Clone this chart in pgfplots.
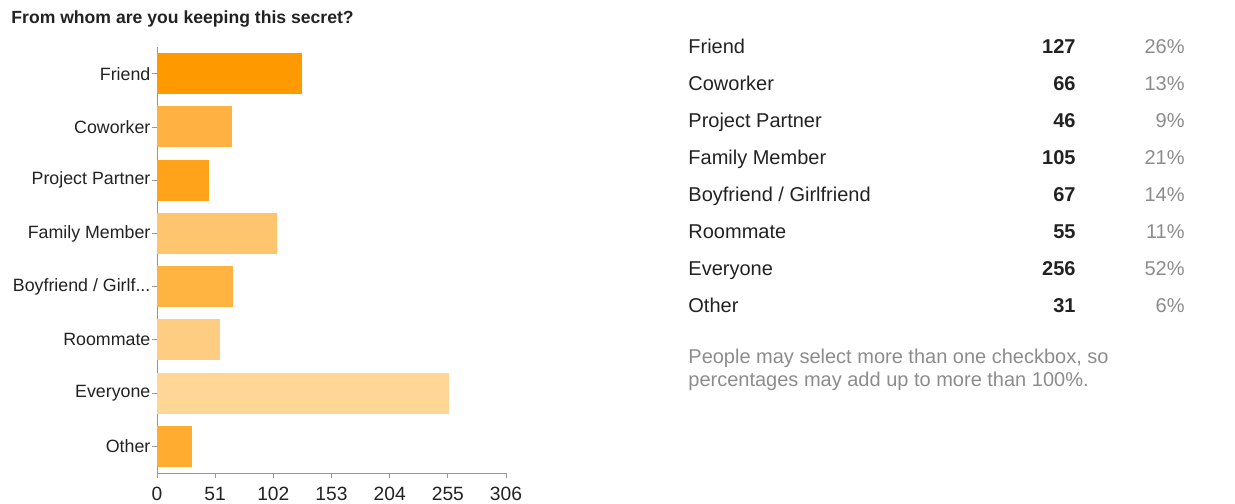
\documentclass[border=0pt]{standalone}
\usepackage{fontspec}
\setmainfont{Liberation Sans}
\usepackage{pgfplots}
\pgfplotsset{compat=1.18}
\definecolor{cFriend}{RGB}{255,153,0}
\definecolor{cCowork}{RGB}{255,178,66}
\definecolor{cProject}{RGB}{255,163,26}
\definecolor{cFamily}{RGB}{255,196,110}
\definecolor{cBoy}{RGB}{255,180,66}
\definecolor{cRoom}{RGB}{255,205,130}
\definecolor{cEvery}{RGB}{255,214,150}
\definecolor{cOther}{RGB}{255,172,48}
\definecolor{axisgray}{RGB}{150,150,150}
\definecolor{txt}{RGB}{34,34,34}
\definecolor{pctgray}{RGB}{140,140,140}
\begin{document}
\begin{tikzpicture}
\begin{scope}[x=0.5pt,y=-0.5pt]
\path[use as bounding box] (0,0) rectangle (1235,503);
\node[anchor=base west,inner sep=0pt,font=\fontsize{8.8}{10}\selectfont\bfseries,text=txt] at (11,24) {From whom are you keeping this secret?};
% table
\foreach \name/\n/\p [count=\i from 0] in {Friend/127/26\%,Coworker/66/13\%,Project Partner/46/9\%,Family Member/105/21\%,{Boyfriend {/} Girlfriend}/67/14\%,Roommate/55/11\%,Everyone/256/52\%,Other/31/6\%}{
  \node[anchor=base west,inner sep=0pt,font=\fontsize{10}{12}\selectfont,text=txt] at (688,{53+37*\i}) {\name};
  \node[anchor=base east,inner sep=0pt,font=\fontsize{10}{12}\selectfont\bfseries,text=txt] at (1076,{53+37*\i}) {\n};
  \node[anchor=base east,inner sep=0pt,font=\fontsize{10}{12}\selectfont,text=pctgray] at (1185,{53+37*\i}) {\p};
}
\node[anchor=base west,inner sep=0pt,font=\fontsize{10}{12}\selectfont,text=pctgray] at (688,363) {People may select more than one checkbox, so};
\node[anchor=base west,inner sep=0pt,font=\fontsize{10}{12}\selectfont,text=pctgray] at (688,386) {percentages may add up to more than 100\%.};
\end{scope}
\begin{axis}[
  at={(78.5pt,-236.5pt)}, anchor=south west,
  scale only axis, width=174.5pt, height=213pt,
  xmin=0, xmax=306, ymin=-0.5, ymax=7.5, y dir=reverse,
  xtick={0,51,102,153,204,255,306},
  ytick={0,1,2,3,4,5,6,7},
  yticklabels={Friend,Coworker,Project Partner,Family Member,{Boyfriend / Girlf{.}{.}{.}},Roommate,Everyone,Other},
  axis x line*=bottom, axis y line*=left,
  axis line style={axisgray,-},
  tick style={axisgray, thin},
  tick align=outside, major tick length=2.5pt,
  yticklabel style={inner sep=0.6pt, font=\fontsize{8.9}{10}\selectfont, text=txt},
  xticklabel style={inner sep=0pt, yshift=-4.5pt, font=\fontsize{9.6}{11}\selectfont, text=txt},
  /pgf/number format/assume math mode=true,
  xbar, bar shift=0pt, bar width=20.5pt,
  clip=false,
]
\addplot[fill=cFriend, draw=none] coordinates {(127,0)};
\addplot[fill=cCowork, draw=none] coordinates {(66,1)};
\addplot[fill=cProject, draw=none] coordinates {(46,2)};
\addplot[fill=cFamily, draw=none] coordinates {(105,3)};
\addplot[fill=cBoy, draw=none] coordinates {(67,4)};
\addplot[fill=cRoom, draw=none] coordinates {(55,5)};
\addplot[fill=cEvery, draw=none] coordinates {(256,6)};
\addplot[fill=cOther, draw=none] coordinates {(31,7)};
\end{axis}
\end{tikzpicture}
\end{document}
